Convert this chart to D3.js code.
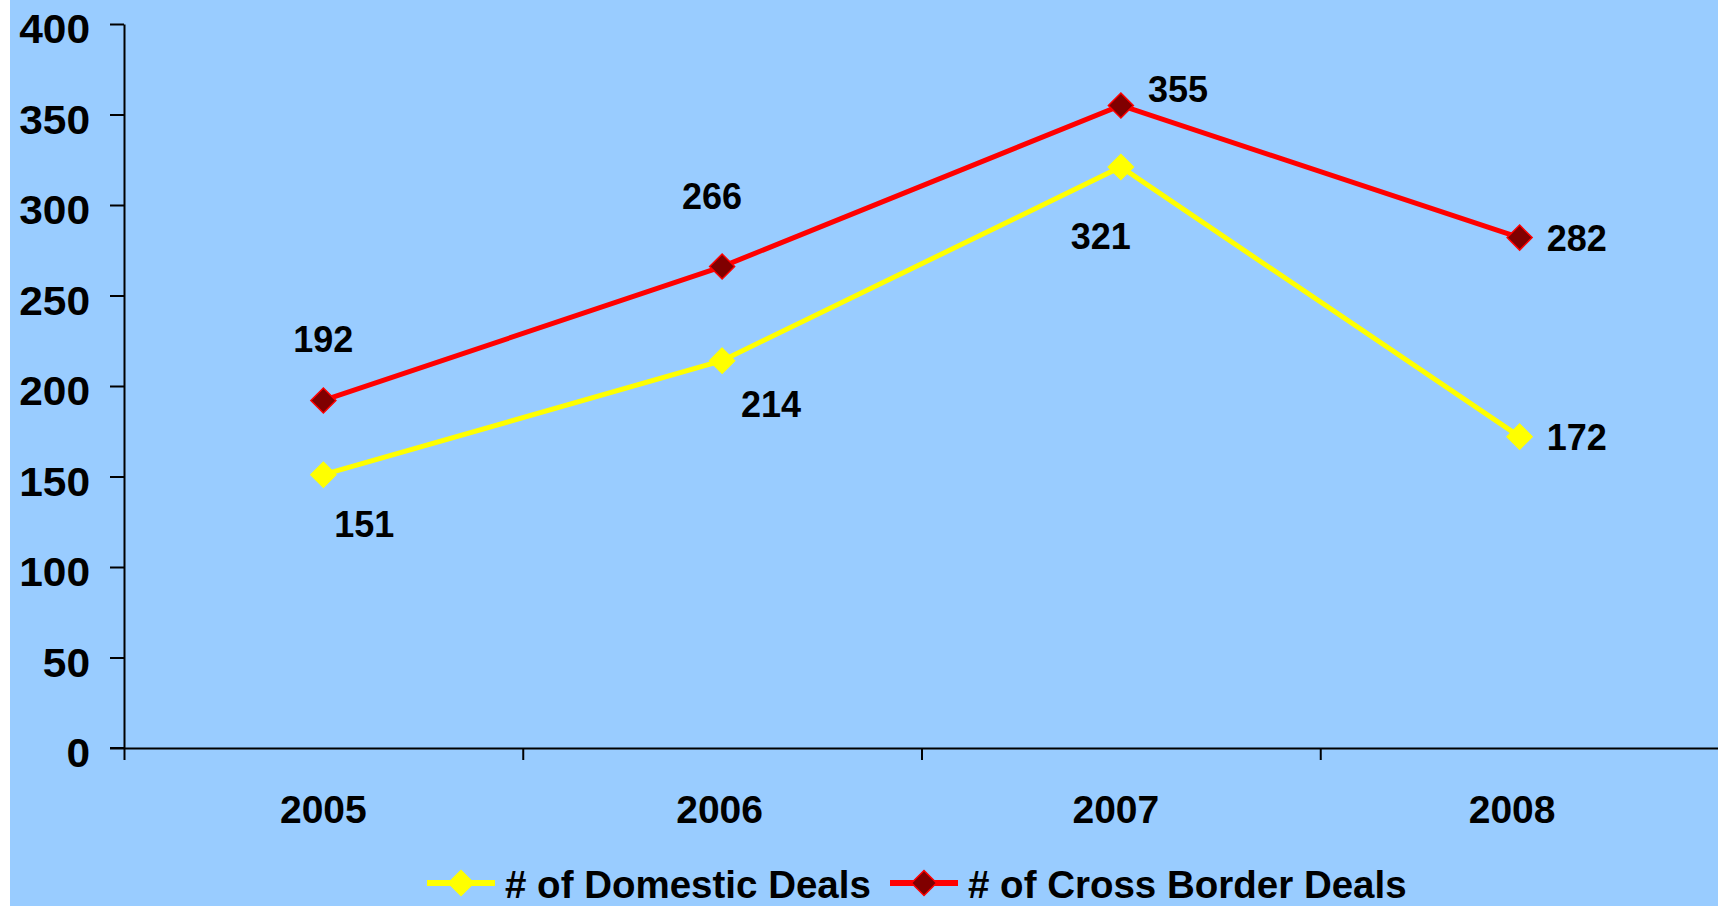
<!DOCTYPE html>
<html>
<head>
<meta charset="utf-8">
<script src="https://cdn.jsdelivr.net/npm/d3@7"></script>
<style>
  body { margin: 0; background: #ffffff; }
  svg text { font-family: "Liberation Sans", Arial, sans-serif; font-weight: bold; fill: #000; }
  .axis path, .axis line { stroke: #000; stroke-width: 2; }
</style>
</head>
<body>
<script>
var years = ['2005', '2006', '2007', '2008'];
var domesticDeals = [151, 214, 321, 172];
var crossBorderDeals = [192, 266, 355, 282];
var yTicks = [0, 50, 100, 150, 200, 250, 300, 350, 400];
var seriesNames = ['# of Domestic Deals', '# of Cross Border Deals'];

// where each data label sits relative to its point
var domesticLabelPos = ['below', 'below', 'below', 'right'];
var crossLabelPos = ['above', 'above', 'right', 'right'];

var w = 1718;
var h = 906;
var margin = { top: 24, bottom: 158, left: 124, right: -1 };

var svg = d3.select('body').append('svg')
            .attr('width', w)
            .attr('height', h)

svg.append('rect')
    .attr('x', 10)
    .attr('y', 0)
    .attr('width', w - 10)
    .attr('height', h)
    .attr('fill', '#99ccff')

var x = d3.scaleLinear()
          .domain([0, years.length])
          .range([margin.left, w - margin.right])
var y = d3.scaleLinear()
          .domain([0, 400])
          .range([h - margin.bottom, margin.top])

var xAxis = d3.axisBottom(x)
              .tickValues(d3.range(years.length + 1))
              .tickFormat('')
              .tickSize(12)
              .tickSizeOuter(0)
var yAxis = d3.axisLeft(y)
              .tickValues(yTicks)
              .tickFormat('')
              .tickSize(14)
              .tickSizeOuter(0)

svg.append('g')
    .classed('y axis', true)
    .attr('transform', 'translate(' + margin.left + ',0)')
    .call(yAxis)
svg.append('g')
    .classed('x axis', true)
    .attr('transform', 'translate(0,' + y(0) + ')')
    .call(xAxis)

// x axis line runs under the y tick too
svg.append('line')
    .attr('x1', margin.left - 14)
    .attr('x2', margin.left)
    .attr('y1', y(0))
    .attr('y2', y(0))
    .attr('stroke', '#000')
    .attr('stroke-width', 2)

svg.selectAll('.ylabel')
    .data(yTicks)
    .enter()
      .append('text')
      .classed('ylabel', true)
      .attr('x', 90)
      .attr('y', function(d){ return y(d) + 19 })
      .attr('text-anchor', 'end')
      .style('font-size', '41px')
      .attr('textLength', function(d){ return String(d).length * 23.6 })
      .attr('lengthAdjust', 'spacingAndGlyphs')
      .text(function(d){ return d })

svg.selectAll('.xlabel')
    .data(years)
    .enter()
      .append('text')
      .classed('xlabel', true)
      .attr('x', function(d, i){ return x(i + 0.5) - i * 2.5 })
      .attr('y', y(0) + 75)
      .attr('text-anchor', 'middle')
      .style('font-size', '39px')
      .text(function(d){ return d })

function diamond(s){
  return 'M0,' + (-s) + 'L' + s + ',0L0,' + s + 'L' + (-s) + ',0Z'
}

function plotSeries(params){
  var line = d3.line()
              .x(function(d, i){ return x(i + 0.5) })
              .y(function(d){ return y(d) })

  this.append('path')
      .datum(params.data)
      .attr('d', line)
      .attr('fill', 'none')
      .attr('stroke', params.color)
      .attr('stroke-width', 5)

  this.selectAll('.' + params.class)
      .data(params.data)
      .enter()
        .append('path')
        .classed(params.class, true)
        .attr('transform', function(d, i){
          return 'translate(' + x(i + 0.5) + ',' + y(d) + ')'
        })
        .attr('d', diamond(12.5))
        .attr('fill', params.fill)
        .attr('stroke', params.color)
        .attr('stroke-width', 1.5)

  this.selectAll('.' + params.class + 'Label')
      .data(params.data)
      .enter()
        .append('text')
        .classed(params.class + 'Label', true)
        .style('font-size', '36px')
        .attr('text-anchor', function(d, i){
          return params.labelPos[i] == 'right' ? 'start' : 'middle'
        })
        .attr('x', function(d, i){
          var p = params.labelPos[i];
          if(p == 'right') return x(i + 0.5) + 27
          if(p == 'below') return x(i + 0.5) + params.belowShift[i]
          return x(i + 0.5) - params.aboveShift[i]
        })
        .attr('y', function(d, i){
          var p = params.labelPos[i];
          if(p == 'right') return y(d) + params.rightDy[i]
          if(p == 'below') return y(d) + params.belowDy[i]
          return y(d) - params.aboveDy[i]
        })
        .text(function(d){ return d })
}

plotSeries.call(svg.append('g'), {
  data: domesticDeals,
  color: '#ffff00',
  fill: '#ffff00',
  class: 'domPoint',
  labelPos: domesticLabelPos,
  belowShift: [41, 49, -20, 0],
  belowDy: [62, 56, 82, 0],
  rightDy: [0, 0, 0, 13]
})

plotSeries.call(svg.append('g'), {
  data: crossBorderDeals,
  color: '#ff0000',
  fill: '#800000',
  class: 'crossPoint',
  labelPos: crossLabelPos,
  aboveShift: [0, 10, 0, 0],
  aboveDy: [48, 58, 0, 0],
  rightDy: [0, 0, -3, 13]
})

// legend
var legendY = 883;
var legend = svg.append('g').classed('legend', true)
var legendItems = [
  { name: seriesNames[0], color: '#ffff00', fill: '#ffff00', x: 427 },
  { name: seriesNames[1], color: '#ff0000', fill: '#800000', x: 890 }
]
legendItems.forEach(function(d){
  legend.append('line')
        .attr('x1', d.x)
        .attr('x2', d.x + 68)
        .attr('y1', legendY)
        .attr('y2', legendY)
        .attr('stroke', d.color)
        .attr('stroke-width', 6)
  legend.append('path')
        .attr('transform', 'translate(' + (d.x + 34) + ',' + legendY + ')')
        .attr('d', diamond(12.5))
        .attr('fill', d.fill)
        .attr('stroke', d.color)
        .attr('stroke-width', 1.5)
  legend.append('text')
        .attr('x', d.x + 78)
        .attr('y', legendY + 15)
        .style('font-size', '38.5px')
        .text(d.name)
})
</script>
</body>
</html>
